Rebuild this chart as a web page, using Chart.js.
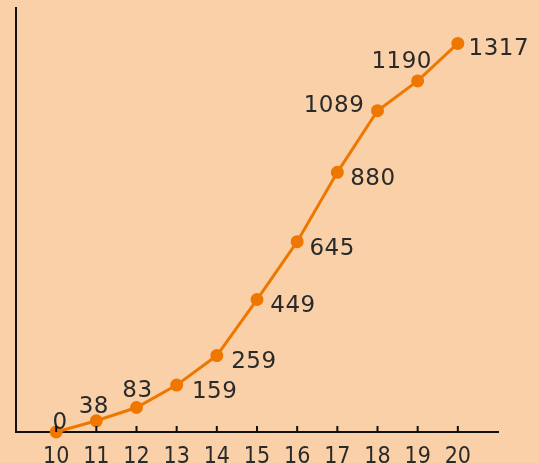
<!DOCTYPE html>
<html>
<head>
<meta charset="utf-8">
<script src="https://cdn.jsdelivr.net/npm/chart.js@4"></script>
<style>
  html, body { margin: 0; padding: 0; background: #F9D0A7; overflow: hidden; }
  #wrap { width: 539px; height: 463px; }
</style>
</head>
<body>
<div id="wrap"><canvas id="c" width="539" height="463"></canvas></div>
<script>
const categories = [10, 11, 12, 13, 14, 15, 16, 17, 18, 19, 20];
const values = [0, 38, 83, 159, 259, 449, 645, 880, 1089, 1190, 1317];
const xTickLabels = ['10','11','12','13','14','15','16','17','18','19','20'];

const FONT = '"DejaVu Sans", sans-serif';
const TICK_FONT = '"DejaVu Sans Condensed", "DejaVu Sans", sans-serif';
const FONT_SIZE = 23;
const TICK_FONT_SIZE = 23;
const labelPlacement = [
  {dx: 4, dy: -11.5}, {dx: -2.5, dy: -16}, {dx: 1, dy: -18.5}, {dx: 38, dy: 5},
  {dx: 37, dy: 4.5}, {dx: 36, dy: 4.5}, {dx: 35, dy: 4.5}, {dx: 35.5, dy: 4.5},
  {dx: -43.5, dy: -7}, {dx: -16, dy: -21}, {dx: 41, dy: 3}
];

const tickPlugin = {
  id: 'innerTicks',
  afterDraw(chart) {
    const ctx = chart.ctx;
    const xs = chart.scales.x;
    const y0 = chart.scales.y.getPixelForValue(0);
    ctx.save();
    ctx.strokeStyle = '#111';
    ctx.lineWidth = 2;
    categories.forEach(v => {
      const px = xs.getPixelForValue(v);
      ctx.beginPath();
      ctx.moveTo(px, y0);
      ctx.lineTo(px, y0 - 6);
      ctx.stroke();
    });
    ctx.restore();
  }
};

const labelPlugin = {
  id: 'valueLabels',
  afterDatasetsDraw(chart) {
    const ctx = chart.ctx;
    const meta = chart.getDatasetMeta(0);
    ctx.save();
    ctx.fillStyle = '#2a2a2a';
    ctx.font = FONT_SIZE + 'px ' + FONT;
    ctx.letterSpacing = '0.5px';
    ctx.textAlign = 'center';
    ctx.textBaseline = 'alphabetic';
    meta.data.forEach((pt, i) => {
      const p = labelPlacement[i];
      ctx.fillText(String(values[i]), pt.x + p.dx, pt.y + p.dy + FONT_SIZE * 0.365);
    });
    ctx.restore();
  }
};

new Chart(document.getElementById('c'), {
  type: 'line',
  data: {
    datasets: [{
      data: categories.map((c, i) => ({x: c, y: values[i]})),
      borderColor: '#EF7700',
      backgroundColor: '#EF7700',
      borderWidth: 3,
      pointRadius: 5,
      pointHoverRadius: 5,
      tension: 0,
      clip: false
    }]
  },
  options: {
    responsive: false,
    animation: false,
    events: [],
    layout: { padding: { left: 16, right: 41, top: 8, bottom: 0 } },
    plugins: { legend: { display: false }, tooltip: { enabled: false } },
    scales: {
      x: {
        type: 'linear',
        min: 9, max: 21,
        grid: { display: false },
        border: { display: true, color: '#111', width: 2 },
        afterBuildTicks(axis) { axis.ticks = categories.map(v => ({value: v})); },
        afterFit(axis) { axis.height = 31; },
        ticks: {
          padding: 3,
          color: '#2a2a2a',
          font: { family: TICK_FONT, size: TICK_FONT_SIZE },
          maxRotation: 0,
          autoSkip: false,
          callback: (v) => { const i = categories.indexOf(v); return i >= 0 ? xTickLabels[i] : ''; }
        }
      },
      y: {
        min: 0, max: 1437,
        grid: { display: false },
        border: { display: true, color: '#111', width: 2 },
        ticks: { display: false },
        afterFit(axis) { axis.width = 0; }
      }
    }
  },
  plugins: [tickPlugin, labelPlugin]
});
</script>
</body>
</html>
